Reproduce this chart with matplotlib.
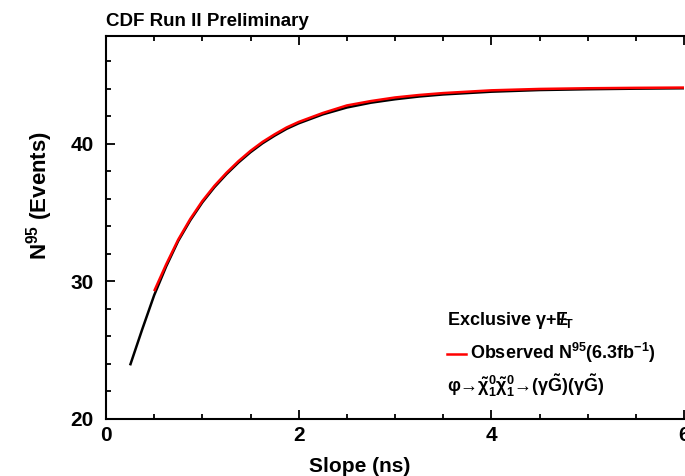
import numpy as np
import matplotlib.pyplot as plt
from matplotlib.ticker import MultipleLocator

plt.rcParams['font.family'] = ['Liberation Sans', 'DejaVu Sans']
plt.rcParams['font.weight'] = 'bold'
plt.rcParams['mathtext.fontset'] = 'custom'
plt.rcParams['mathtext.rm'] = 'Liberation Sans:bold'
plt.rcParams['mathtext.bf'] = 'Liberation Sans:bold'
plt.rcParams['mathtext.it'] = 'Liberation Sans:bold'
plt.rcParams['mathtext.sf'] = 'Liberation Sans:bold'

# expected N95 vs slope (black)
slope_exp = [0.25, 0.375, 0.5, 0.625, 0.75, 0.875, 1.0, 1.125, 1.25, 1.375, 1.5, 1.625,
             1.75, 1.875, 2.0, 2.25, 2.5, 2.75, 3.0, 3.25, 3.5, 3.75, 4.0, 4.5, 5.0, 5.5, 6.0]
n95_exp = [23.9, 26.5, 29.0, 31.1, 32.95, 34.45, 35.75, 36.85, 37.8, 38.65, 39.4, 40.05,
           40.6, 41.1, 41.5, 42.15, 42.65, 43.0, 43.25, 43.45, 43.6, 43.7, 43.8, 43.92,
           43.98, 44.02, 44.05]

# observed N95 vs slope (red)
slope_obs = [0.5, 0.625, 0.75, 0.875, 1.0, 1.125, 1.25, 1.375, 1.5, 1.625, 1.75, 1.875,
             2.0, 2.25, 2.5, 2.75, 3.0, 3.25, 3.5, 3.75, 4.0, 4.5, 5.0, 5.5, 6.0]
n95_obs = [29.3, 31.25, 33.05, 34.55, 35.85, 36.95, 37.9, 38.75, 39.5, 40.15,
           40.7, 41.2, 41.6, 42.25, 42.8, 43.12, 43.38, 43.56, 43.7, 43.8, 43.9,
           44.0, 44.05, 44.08, 44.1]

fig = plt.figure(figsize=(6.85, 4.76), dpi=100)
ax = fig.add_axes([106 / 685, 57 / 476, 578 / 685, 383 / 476])

ax.plot(slope_exp, n95_exp, color='black', lw=1.8, solid_capstyle='butt')
ax.plot(slope_obs, n95_obs, color='#ff0000', lw=1.8, solid_capstyle='butt')

ax.set_xlim(0, 6)
ax.set_ylim(20, 47.85)
ax.xaxis.set_major_locator(MultipleLocator(2))
ax.xaxis.set_minor_locator(MultipleLocator(0.5))
ax.yaxis.set_major_locator(MultipleLocator(10))
ax.yaxis.set_minor_locator(MultipleLocator(2))
ax.tick_params(which='both', direction='in', top=True, right=False, width=1.3,
               labelsize=15)
ax.tick_params(axis='x', pad=5)
ax.tick_params(axis='y', pad=9)
ax.tick_params(which='major', length=6.5)
ax.tick_params(which='minor', length=3.5)
for lab in ax.get_xticklabels() + ax.get_yticklabels():
    lab.set_fontweight('bold')
for side in ['left', 'bottom', 'top']:
    ax.spines[side].set_linewidth(1.5)
ax.spines['right'].set_visible(False)

fig.text(106 / 685, 1 - 26 / 476, 'CDF Run II Preliminary', fontsize=13.5,
         fontweight='bold', ha='left', va='baseline')
fig.text(360 / 685, 1 - 472 / 476, 'Slope (ns)', fontsize=15, fontweight='bold',
         ha='center', va='baseline')
fig.text(40 / 685, 1 - 195 / 476, r'N$^{95}$ (Events)', fontsize=16, fontweight='bold',
         rotation=90, ha='center', va='center')

# legend block
fs = 13
fig.text(447 / 685, 1 - 325 / 476, r'Exclusive γ+$E\!\!\!/_T$',
         fontsize=fs, fontweight='bold', ha='left', va='baseline')
fig.add_artist(plt.Line2D([447 / 685, 466 / 685], [1 - 354 / 476, 1 - 354 / 476],
                          color='#ff0000', lw=1.8))
fig.text(470 / 685, 1 - 359 / 476, r'Observed N$^{95}$(6.3fb$^{-1}$)',
         fontsize=fs, fontweight='bold', ha='left', va='baseline')
fig.text(447 / 685, 1 - 392 / 476,
         r'φ→$\tilde{\chi}_1^0\tilde{\chi}_1^0$→(γ$\tilde{G}$)(γ$\tilde{G}$)',
         fontsize=fs, fontweight='bold', ha='left', va='baseline')

fig.savefig('out.png', dpi=100)
